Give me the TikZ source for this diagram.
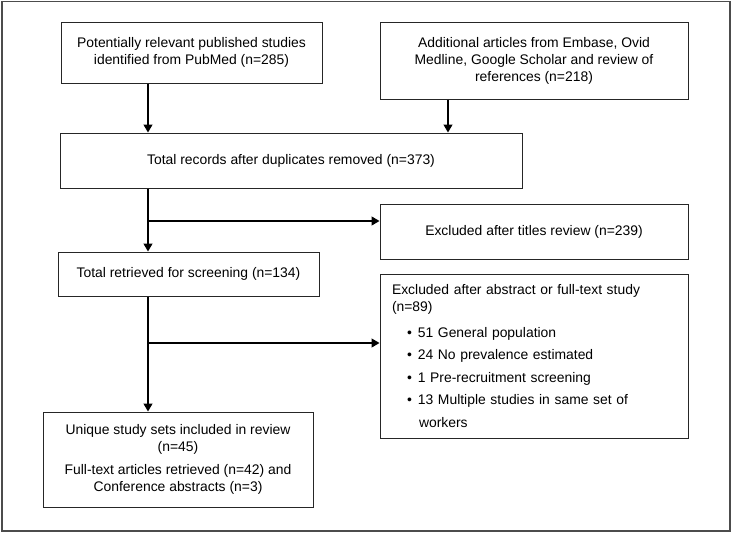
\documentclass[tikz,border=0pt]{standalone}
\usepackage{fontspec}
\setmainfont{Liberation Sans}
\usetikzlibrary{arrows.meta}
\begin{document}
\begin{tikzpicture}[x=1pt,y=-1pt,
  every node/.style={font=\fontsize{13.9}{17}\selectfont},
  box/.style={draw=black!85,line width=1pt,inner sep=0pt,align=center},
  arr/.style={draw=black,line width=1.3pt,-{Triangle[length=8pt,width=9pt]}},
  conn/.style={draw=black,line width=1.3pt}]
\useasboundingbox (0,0) rectangle (732,533);
\draw[draw=black!70,line width=1.5pt] (2,1.5) rectangle (730,531);

\node[box,minimum width=261pt,minimum height=61pt] (b1) at (191.5,52.5)
  {Potentially relevant published studies\\identified from PubMed (n=285)};
\node[box,minimum width=308pt,minimum height=77pt] (b2) at (534,60.5)
  {Additional articles from Embase, Ovid\\Medline, Google Scholar and review of\\references (n=218)};
\node[box,minimum width=462pt,minimum height=55pt] (b3) at (291,160.5)
  {Total records after duplicates removed (n=373)};
\node[box,minimum width=308pt,minimum height=55pt] (b5) at (534,231.5)
  {Excluded after titles review (n=239)};
\node[box,minimum width=261pt,minimum height=44pt] (b4) at (188.5,274)
  {Total retrieved for screening (n=134)};
\node[box,minimum width=270pt,minimum height=95pt] (b6) at (178,459.5)
  {Unique study sets included in review\\(n=45)\\[6pt]Full-text articles retrieved (n=42) and\\Conference abstracts (n=3)};
\node[box,minimum width=308pt,minimum height=164pt,text width=284pt,inner xsep=12pt,align=left] (b7) at (534,356)
  {Excluded after abstract or full-text study\\(n=89)\\[9pt]
   \hspace*{15pt}\textbullet\hspace{6pt}51 General population\\[5.5pt]
   \hspace*{15pt}\textbullet\hspace{6pt}24 No prevalence estimated\\[5.5pt]
   \hspace*{15pt}\textbullet\hspace{6pt}1 Pre-recruitment screening\\[5.5pt]
   \hspace*{15pt}\textbullet\hspace{6pt}13 Multiple studies in same set of\\[5.5pt]
   \hspace*{27pt}workers};

\coordinate (c1) at (148,0);
\coordinate (c2) at (448,0);
\coordinate (j1) at (148,221);
\coordinate (j2) at (148,343);

\draw[arr] (b1.south -| c1) -- (b3.north -| c1);
\draw[arr] (b2.south -| c2) -- (b3.north -| c2);
\draw[arr] (b3.south -| c1) -- (b4.north -| c1);
\draw[arr] (j1) -- (j1 -| b5.west);
\draw[arr] (b4.south -| c1) -- (b6.north -| c1);
\draw[arr] (j2) -- (j2 -| b7.west);
\end{tikzpicture}
\end{document}
